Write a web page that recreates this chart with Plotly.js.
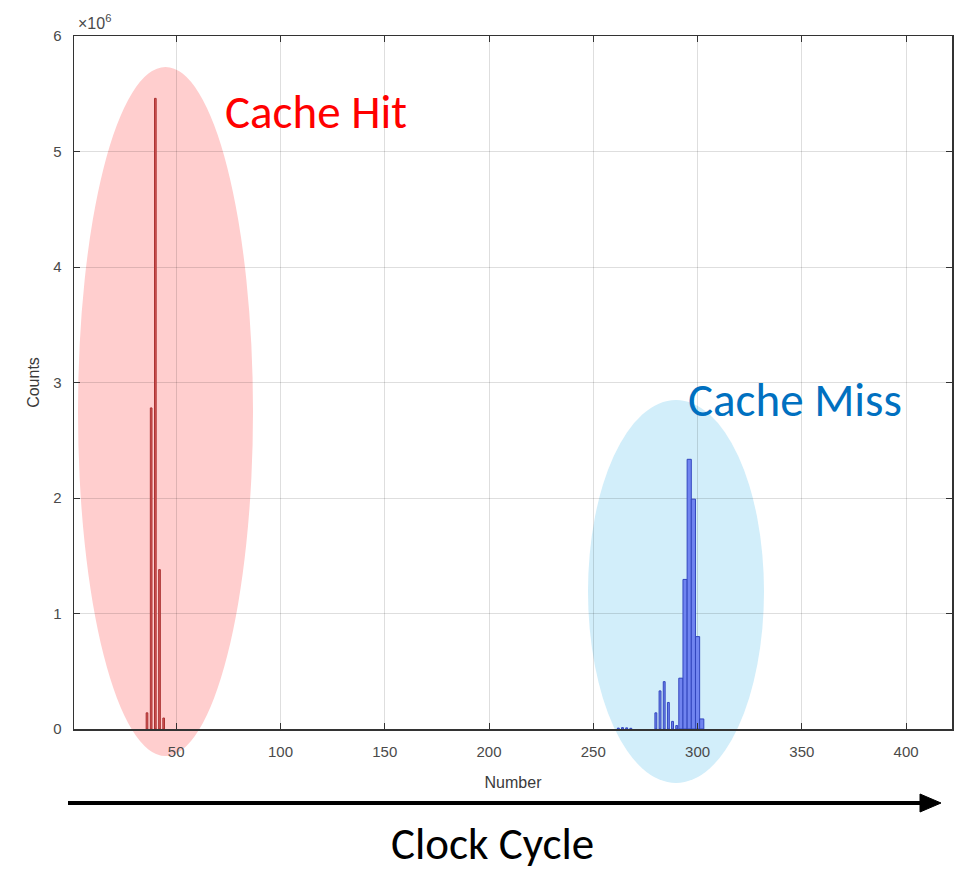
<!DOCTYPE html>
<html>
<head>
<meta charset="utf-8">
<script src="https://cdn.plot.ly/plotly-3.0.1.min.js"></script>
<style>html,body{margin:0;padding:0;background:#fff;}#chart{width:955px;height:870px;}</style>
</head>
<body>
<div id="chart"></div>
<script>
// Cache hit histogram (clock cycles, counts)
const hitCycles = [36, 38, 40, 42, 44];
const hitCounts = [140000, 2780000, 5460000, 1380000, 95000];

// Cache miss histogram
const missCycles = [262, 264, 266, 268, 280, 282, 284, 286, 288, 290, 292, 294, 296, 298, 300, 302];
const missCounts = [8000, 12000, 10000, 6000, 140000, 330000, 410000, 230000, 66000, 30000, 440000, 1295000, 2335000, 1990000, 800000, 87000];

const yTickVals = [0, 1e6, 2e6, 3e6, 4e6, 5e6, 6e6];
const yTickText = ['0', '1', '2', '3', '4', '5', '6'];
const xTickVals = [50, 100, 150, 200, 250, 300, 350, 400];

// plot area in pixels (for paper-coordinate conversions of decorations)
const L = 74, R = 952, T = 36, B = 729;
const px = v => (v - L) / (R - L);
const py = v => (B - v) / (B - T);

const traces = [
  {
    type: 'bar', x: hitCycles, y: hitCounts, width: 0.8,
    marker: {color: 'rgb(214,90,90)', line: {color: 'rgb(170,50,50)', width: 1}},
    hoverinfo: 'x+y', showlegend: false
  },
  {
    type: 'bar', x: missCycles, y: missCounts,
    width: missCycles.map(c => c >= 292 ? 2 : 0.9),
    marker: {color: 'rgb(112,132,240)', line: {color: 'rgb(50,70,190)', width: 1}},
    hoverinfo: 'x+y', showlegend: false
  }
];

const tickFont = {family: 'Liberation Sans, Arial, sans-serif', size: 15, color: '#4a4a4a'};
const titleFont = {family: 'Liberation Sans, Arial, sans-serif', size: 16, color: '#3a3a3a'};
const bigFont = 'Carlito, Lato, sans-serif';

const layout = {
  width: 955, height: 870,
  margin: {l: L, r: 955 - R, t: T, b: 870 - B},
  paper_bgcolor: '#ffffff',
  plot_bgcolor: 'rgba(0,0,0,0)',
  barmode: 'overlay',
  bargap: 0,
  xaxis: {
    range: [1, 422],
    tickvals: xTickVals,
    ticks: 'inside', ticklen: 6, tickcolor: '#333', tickwidth: 1,
    showline: true, linecolor: '#333', linewidth: 1.5, mirror: 'ticks',
    showgrid: true, gridcolor: 'rgba(0,0,0,0.13)', gridwidth: 1,
    zeroline: false,
    tickfont: tickFont,
    ticklabelstandoff: 8,
    title: {text: 'Number', font: titleFont, standoff: 18}
  },
  yaxis: {
    range: [0, 6e6],
    tickvals: yTickVals, ticktext: yTickText,
    ticks: 'inside', ticklen: 6, tickcolor: '#333', tickwidth: 1,
    showline: true, linecolor: '#333', linewidth: 1.5, mirror: 'ticks',
    showgrid: true, gridcolor: 'rgba(0,0,0,0.13)', gridwidth: 1,
    zeroline: false,
    tickfont: tickFont,
    ticklabelstandoff: 8,
    title: {text: 'Counts', font: titleFont, standoff: 9}
  },
  shapes: [
    {type: 'circle', xref: 'paper', yref: 'paper', layer: 'below',
     x0: px(78), x1: px(253), y0: py(756), y1: py(67),
     fillcolor: 'rgb(255,206,206)', line: {width: 0}},
    {type: 'circle', xref: 'paper', yref: 'paper', layer: 'below',
     x0: px(588), x1: px(764), y0: py(783), y1: py(400),
     fillcolor: 'rgb(210,238,250)', line: {width: 0}},
    {type: 'line', xref: 'paper', yref: 'paper',
     x0: px(68), x1: px(924), y0: py(803), y1: py(803),
     line: {color: '#000', width: 4}},
    {type: 'path', xref: 'paper', yref: 'paper',
     path: 'M ' + px(920) + ' ' + py(794) + ' L ' + px(941) + ' ' + py(803) + ' L ' + px(920) + ' ' + py(812) + ' Z',
     fillcolor: '#000', line: {color: '#000', width: 1}}
  ],
  annotations: [
    {xref: 'paper', yref: 'paper', x: px(76), y: py(22), xanchor: 'left', yanchor: 'middle',
     text: '×10<sup>6</sup>', showarrow: false,
     font: {family: 'Liberation Sans, Arial, sans-serif', size: 16, color: '#4a4a4a'}},
    {xref: 'paper', yref: 'paper', x: px(316), y: py(112), xanchor: 'center', yanchor: 'middle',
     text: 'Cache Hit', showarrow: false,
     font: {family: bigFont, size: 47, color: '#ff0000'}},
    {xref: 'paper', yref: 'paper', x: px(795), y: py(400), xanchor: 'center', yanchor: 'middle',
     text: 'Cache Miss', showarrow: false,
     font: {family: bigFont, size: 47, color: '#0070c0'}},
    {xref: 'paper', yref: 'paper', x: px(492), y: py(844), xanchor: 'center', yanchor: 'middle',
     text: 'Clock Cycle', showarrow: false,
     font: {family: bigFont, size: 45, color: '#000000'}}
  ]
};

Plotly.newPlot('chart', traces, layout, {displayModeBar: false, staticPlot: true});
</script>
</body>
</html>
